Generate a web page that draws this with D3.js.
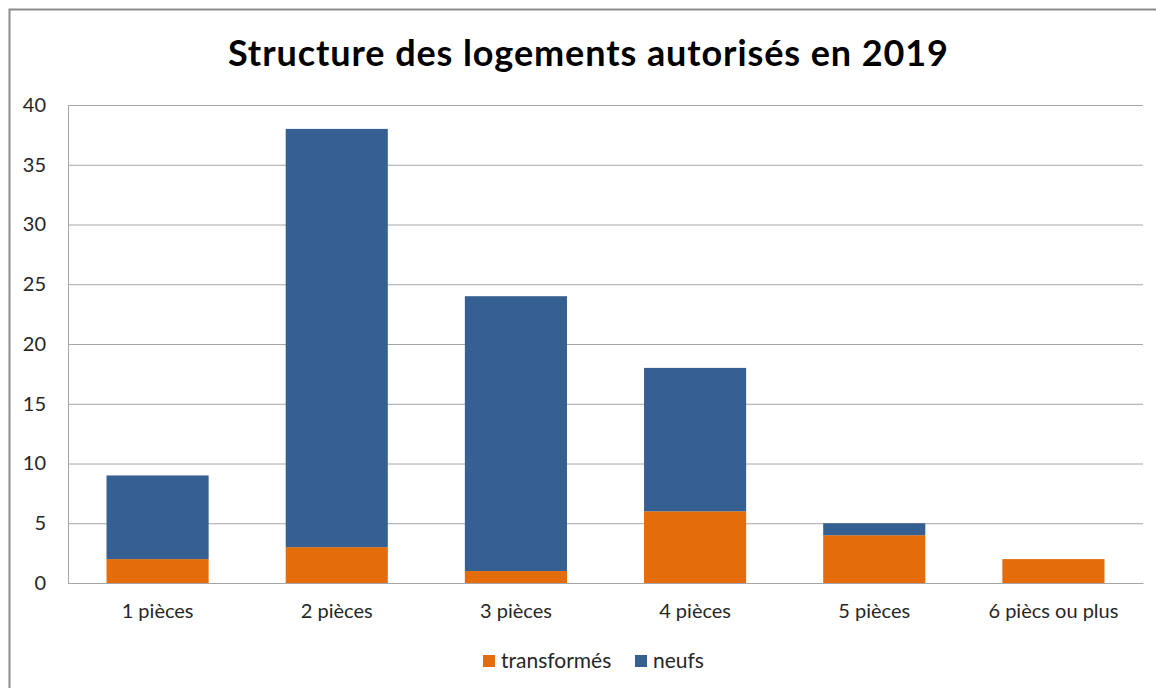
<!DOCTYPE html>
<html lang="fr">
<head>
    <meta charset="UTF-8">
    <title>Structure des logements autorisés en 2019</title>
    <style>
        html, body {
            margin: 0px;
            padding: 0px;
            background-color: white;
            font-family: Lato, 'Open Sans', sans-serif;
        }
        #vis {
            width: 1156px;
            height: 688px;
        }
        .grid line {
            stroke: #a6a6a6;
            stroke-width: 1px;
        }
        .tick text {
            font-size: 20px;
            fill: #262626;
        }
    </style>
</head>
<body>
    <div id="vis"></div>
    <script src="https://d3js.org/d3.v7.min.js"></script>
    <script>

        // data
        var categories = ["1 pièces", "2 pièces", "3 pièces", "4 pièces", "5 pièces", "6 pi\u00e8cs ou plus"];
        var transformes = [2, 3, 1, 6, 4, 2];
        var neufs = [7, 35, 23, 12, 1, 0];
        var seriesNames = ["transformés", "neufs"];
        var seriesColors = ["#e46c0a", "#376092"];
        var yTicks = [0, 5, 10, 15, 20, 25, 30, 35, 40];

        var width = 1156;
        var height = 688;

        var plot = {left: 68, top: 105, right: 1143, bottom: 583};

        var svg = d3.select("#vis")
            .append("svg")
            .attr("width", width)
            .attr("height", height);

        // chart frame
        svg.append("rect")
            .attr("x", 9.5)
            .attr("y", 9.5)
            .attr("width", width + 20)
            .attr("height", height + 20)
            .attr("fill", "white")
            .attr("stroke", "#8c8c8c")
            .attr("stroke-width", 2);

        svg.append("text")
            .attr("x", 588)
            .attr("y", 66)
            .attr("text-anchor", "middle")
            .attr("font-size", "36px")
            .attr("font-weight", "bold")
            .attr("fill", "#000")
            .attr("textLength", 720)
            .attr("lengthAdjust", "spacing")
            .text("Structure des logements autorisés en 2019");

        var x_scale = d3.scaleBand()
            .domain(categories)
            .range([plot.left, plot.right])
            .paddingInner(0.43)
            .paddingOuter(0.215);

        var y_scale = d3.scaleLinear()
            .domain([0, 40])
            .range([plot.bottom, plot.top]);

        // gridlines
        svg.append("g")
            .attr("class", "grid")
            .attr("transform", "translate(" + plot.left + ",0)")
            .call(d3.axisRight(y_scale).tickValues(yTicks).tickSize(plot.right - plot.left).tickFormat(""))
            .call(function(g){ g.select(".domain").remove(); });

        // y axis
        var yAxis = svg.append("g")
            .attr("transform", "translate(" + plot.left + ",0)")
            .call(d3.axisLeft(y_scale).tickValues(yTicks).tickSize(0).tickPadding(22));
        yAxis.select(".domain").attr("stroke", "#a6a6a6");
        yAxis.selectAll("text").attr("font-family", "Lato, sans-serif");

        // stacked data
        var rows = categories.map(function(c, i){
            return {cat: c, "transformés": transformes[i], "neufs": neufs[i]};
        });
        var stack = d3.stack().keys(seriesNames)(rows);

        svg.selectAll(".series")
            .data(stack)
            .enter()
            .append("g")
            .attr("class", "series")
            .attr("fill", function(d, i){ return seriesColors[i]; })
            .selectAll("rect")
            .data(function(d){ return d; })
            .enter()
            .append("rect")
            .attr("x", function(d){ return x_scale(d.data.cat); })
            .attr("width", x_scale.bandwidth())
            .attr("y", function(d){ return y_scale(d[1]); })
            .attr("height", function(d){ return y_scale(d[0]) - y_scale(d[1]); });

        // x axis
        var xAxis = svg.append("g")
            .attr("transform", "translate(0," + plot.bottom + ")")
            .call(d3.axisBottom(x_scale).tickSize(0).tickPadding(21));
        xAxis.select(".domain").attr("stroke", "#a6a6a6");
        xAxis.selectAll("text").attr("font-family", "Lato, sans-serif");

        // legend
        var legendX = [483, 635];
        var legend = svg.selectAll(".legend")
            .data(seriesNames)
            .enter()
            .append("g")
            .attr("class", "legend")
            .attr("transform", function(d, i){ return "translate(" + legendX[i] + ",655)"; });

        legend.append("rect")
            .attr("width", 12)
            .attr("height", 12)
            .attr("fill", function(d, i){ return seriesColors[i]; });

        legend.append("text")
            .attr("x", 18)
            .attr("y", 13)
            .attr("font-size", "21px")
            .attr("fill", "#262626")
            .text(function(d){ return d; });

    </script>
</body>
</html>
